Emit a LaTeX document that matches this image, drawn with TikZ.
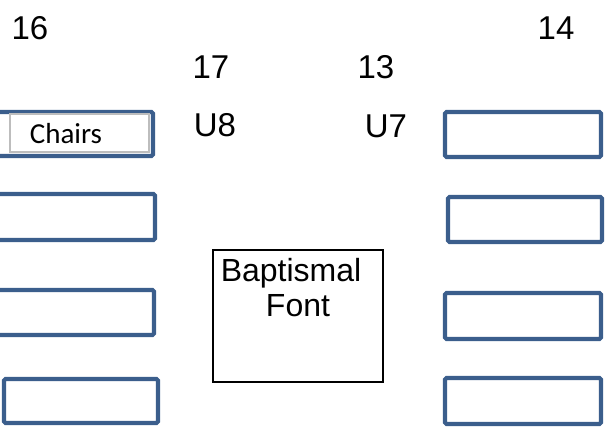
\documentclass[tikz,border=0pt]{standalone}
\usepackage{fontspec}
\setmainfont{Liberation Sans}
\newfontfamily\calib{Carlito}
\definecolor{chairblue}{HTML}{3B5E8C}
\definecolor{chairgray}{HTML}{BDBDBD}
\begin{document}
\begin{tikzpicture}[x=1pt,y=-1pt,
  pew/.style={draw=chairblue,line width=4.2pt,rounded corners=1.5pt,fill=white},
  lbl/.style={font=\fontsize{33}{33}\selectfont,inner sep=0pt,anchor=center},
  blbl/.style={font=\fontsize{32}{32}\selectfont,inner sep=0pt,anchor=center},
  fontbox/.style={draw=black,line width=1.8pt}]
\useasboundingbox (0,0) rectangle (605,435);
% left pews
\draw[pew] (-3,112) rectangle (153,156);
\draw[draw=chairgray,line width=1.6pt] (10,114) rectangle (149,152);
\node[inner sep=0pt,font=\calib\fontsize{29}{29}\selectfont] (chairs) at (66,134) {Chairs};
\draw[pew] (-3,194) rectangle (155,240);
\draw[pew] (-3,290) rectangle (154,335);
\draw[pew] (4,379) rectangle (158,423);
% right pews
\draw[pew] (445,112) rectangle (601,157);
\draw[pew] (448,197) rectangle (602,242);
\draw[pew] (445,293) rectangle (601,339);
\draw[pew] (445,378) rectangle (601,424);
% baptismal font
\draw[fontbox] (213,250) rectangle (383,382);
\node[blbl] (bapt) at (291,273) {Baptismal};
\node[blbl] (font) at (298,306) {Font};
% labels
\node[lbl] (n16) at (30,28) {16};
\node[lbl] (n14) at (556,28) {14};
\node[lbl] (n17) at (211,67) {17};
\node[lbl] (n13) at (376,67) {13};
\node[lbl] (u8) at (215,125) {U8};
\node[lbl] (u7) at (386,126) {U7};
\end{tikzpicture}
\end{document}
